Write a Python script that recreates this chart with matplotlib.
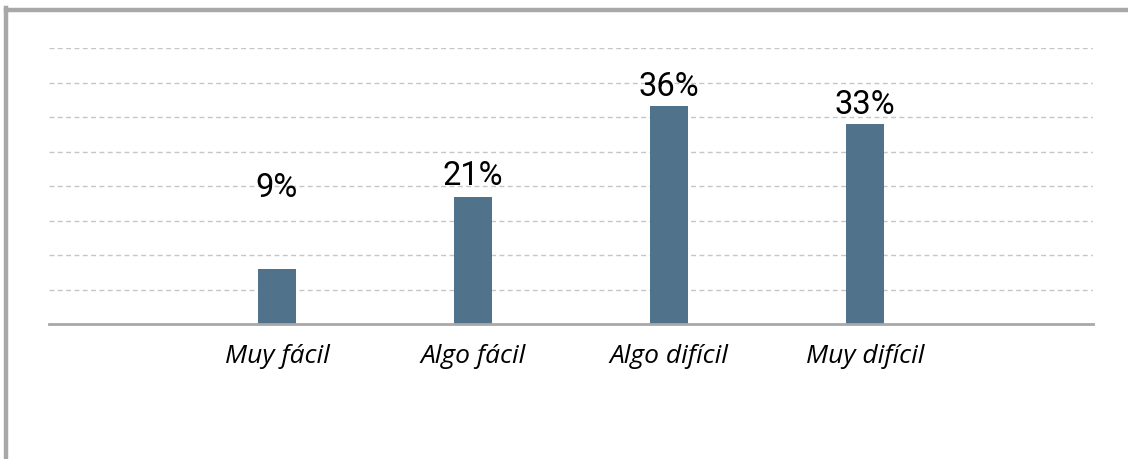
import matplotlib
matplotlib.use("Agg")
import matplotlib.pyplot as plt
from matplotlib.lines import Line2D

categories = ["Muy fácil", "Algo fácil", "Algo difícil", "Muy difícil"]
values = [9, 21, 36, 33]
value_labels = ["9%", "21%", "36%", "33%"]

# extra lift (in points) for each value label above its bar
label_lift = [45, 1, 0, 0]

bar_color = "#50728a"
frame_color = "#a8a8aa"
grid_color = "#c6c6c6"

fig = plt.figure(figsize=(11.28, 4.59), dpi=100)
ax = fig.add_axes([49 / 1128, 135 / 459, 1044 / 1128, 276 / 459])

x = range(len(categories))
bars = ax.bar(x, values, width=0.194, color=bar_color, zorder=3)

ymax = 45.5
ax.set_ylim(0, ymax)
ax.set_xlim(-1.163, 4.163)
ax.set_yticks([ymax * i / 8 for i in range(1, 9)])
ax.yaxis.grid(True, linestyle=(0, (3.5, 2.5)), color=grid_color, linewidth=1.0, zorder=0)
ax.tick_params(axis="y", left=False, labelleft=False)
ax.tick_params(axis="x", bottom=False, pad=11)
ax.set_xticks(list(x))
ax.set_xticklabels(categories, fontfamily="Open Sans", fontstyle="italic",
                   fontsize=19, fontweight="medium")

for side in ["top", "right", "left"]:
    ax.spines[side].set_visible(False)
ax.spines["bottom"].set_color(frame_color)
ax.spines["bottom"].set_linewidth(2)
ax.spines["bottom"].set_zorder(4)

for rect, text, lift in zip(bars, value_labels, label_lift):
    ax.annotate(text, (rect.get_x() + rect.get_width() / 2, rect.get_height()),
                xytext=(0, 2 + lift), textcoords="offset points",
                ha="center", va="bottom", fontfamily="Roboto", fontsize=23.5,
                color="black")

# outer frame on the top and left
fig.add_artist(Line2D([6 / 1128, 1], [1 - 10 / 459, 1 - 10 / 459],
                      transform=fig.transFigure, color=frame_color, linewidth=3.2))
fig.add_artist(Line2D([6 / 1128, 6 / 1128], [0, 1 - 8 / 459],
                      transform=fig.transFigure, color=frame_color, linewidth=3.2))

fig.savefig("out.png", dpi=100)
